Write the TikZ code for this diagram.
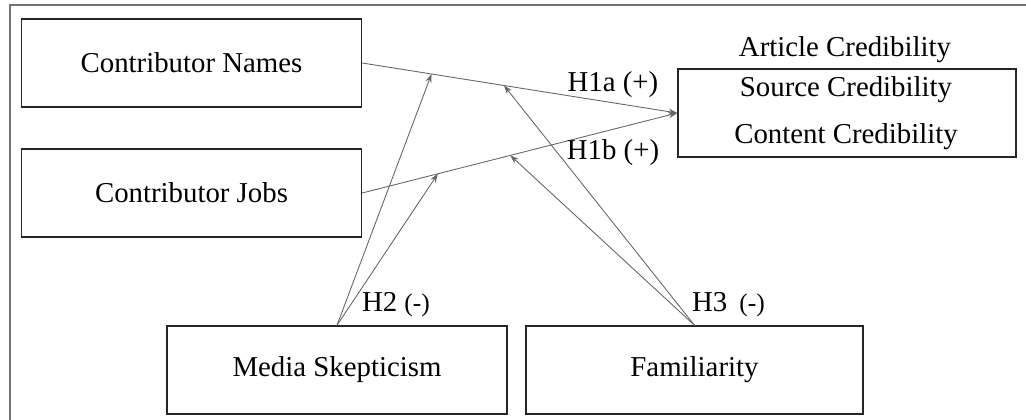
\documentclass[tikz,border=0pt]{standalone}
\usepackage{fontspec}
\setmainfont{Liberation Serif}
\usetikzlibrary{positioning,arrows.meta}
\begin{document}
\begin{tikzpicture}[
  font=\fontsize{16.4}{20}\selectfont,
  box/.style={draw=black!85, line width=0.8pt, minimum width=6.8cm, minimum height=1.76cm, inner sep=0pt},
  arr/.style={draw=black!60, line width=0.5pt, -{Stealth[length=5pt,width=3.5pt]}},
  lbl/.style={inner sep=0pt}
]
\useasboundingbox (0, 0) rectangle (20.52, 8.4);

% The frame round it all
\draw[black!55, line width=0.8pt] (0.2, 0) -- (0.2, 8.3) -- (20.6, 8.3);

% The independent variables
\node[box] (names) at (3.83, 7.14) {Contributor Names};
\node[box] (jobs) at (3.83, 4.54) {Contributor Jobs};

% The outcome
\node[box, minimum width=6.76cm] (art) at (16.94, 6.14) {};
\node[lbl] (src) at (16.92, 6.60) {Source Credibility};
\node[lbl] (cnt) at (16.92, 5.66) {Content Credibility};
\node[lbl] (artlabel) at (16.9, 7.40) {Article Credibility};

% The moderators
\node[box] (media) at (6.74, 1.0) {Media Skepticism};
\node[box, minimum width=6.74cm] (famil) at (13.89, 1.0) {Familiarity};

% The main paths H1a and H1b
\draw[arr] (names.east) -- (art.west)
  coordinate[pos=0.22] (n1) coordinate[pos=0.45] (n2);
\draw[arr] (jobs.east) -- (art.west)
  coordinate[pos=0.24] (j1) coordinate[pos=0.47] (j2);
\node[lbl] (h1a) at (12.26, 6.70) {H1a (+)};
\node[lbl] (h1b) at (12.26, 5.34) {H1b (+)};

% The moderation paths H2 and H3
\draw[arr] (media.north) -- (n1);
\draw[arr] (media.north) -- (j1);
\draw[arr] (famil.north) -- (n2);
\draw[arr] (famil.north) -- (j2);
\node[lbl] (h2) at (7.92, 2.3) {H2 {\fontsize{14.5}{16}\selectfont(-)}};
\node[lbl] (h3) at (14.57, 2.3) {H3\, {\fontsize{14.5}{16}\selectfont(-)}};

\end{tikzpicture}
\end{document}
